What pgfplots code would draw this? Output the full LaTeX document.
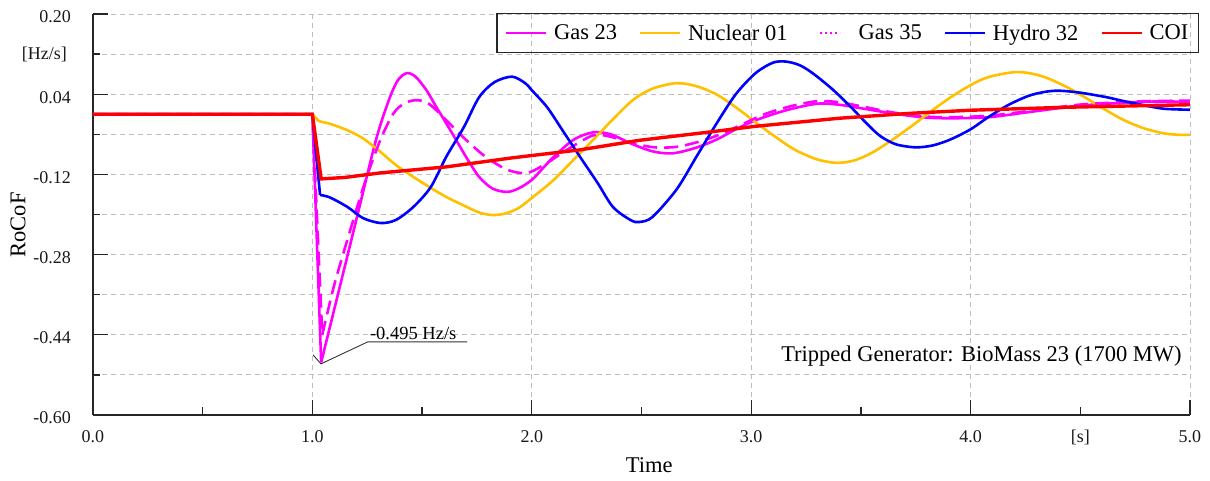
\documentclass[border=0pt]{standalone}
\usepackage{fontspec}
\setmainfont{Liberation Serif}
\usepackage{pgfplots}
\pgfplotsset{compat=1.18}
\definecolor{cMag}{RGB}{255,0,255}
\definecolor{cYel}{RGB}{255,192,0}
\definecolor{cBlu}{RGB}{0,0,255}
\definecolor{cRed}{RGB}{255,0,0}
\definecolor{cGrid}{RGB}{190,190,190}
\begin{document}
\begin{tikzpicture}
\begin{axis}[
  at={(0,0)}, anchor=south west,
  width=1097pt, height=401pt, scale only axis,
  xmin=0, xmax=5, ymin=-0.60, ymax=0.20,
  clip=false,
  axis x line=bottom, axis y line=left,
  axis line style={-, line width=1.3pt, black!85},
  xtick={0,1,2,3,4,5}, xticklabels={0.0,1.0,2.0,3.0,4.0,5.0},
  minor xtick={0.5,1.5,2.5,3.5,4.5},
  ytick={0.20,0.04,-0.12,-0.28,-0.44,-0.60},
  yticklabels={0.20,0.04,-0.12,-0.28,-0.44,-0.60},
  minor ytick={0.12,-0.04,-0.20,-0.36,-0.52},
  tick align=inside, major tick length=15pt, minor tick length=7.5pt,
  every tick/.style={line width=1.3pt, black!85},
  xmajorgrids, ymajorgrids, yminorgrids,
  major grid style={line width=0.9pt, cGrid, dash pattern=on 5pt off 4pt},
  minor grid style={line width=0.9pt, cGrid, dash pattern=on 5pt off 4pt},
  /pgf/number format/assume math mode=true,
  ticklabel style={font=\fontsize{18}{20}\selectfont, text=black!90},
  xticklabel style={anchor=center, yshift=-22pt},
  yticklabel style={anchor=east, inner sep=0pt, xshift=-22pt, yshift=-3pt},
  xlabel={Time},
  xlabel style={at={(axis description cs:0.507,0)}, anchor=center, yshift=-50.5pt, font=\fontsize{22.5}{24}\selectfont},
  ylabel={RoCoF},
  ylabel style={at={(axis description cs:-0.0684,0.474)}, anchor=center, font=\fontsize{22.5}{24}\selectfont},
  legend columns=5,
  legend style={at={(1.0082,1.0025)}, anchor=north east, draw=black!85, line width=1.2pt, fill=none,
    font=\fontsize{22.5}{24}\selectfont, inner xsep=8pt, inner ysep=9pt,
    /tikz/every odd column/.append style={column sep=4.5pt},
    /tikz/every even column/.append style={column sep=20pt}},
  legend image code/.code={\draw[#1] (0pt,0pt) -- (40pt,0pt);},
]
\addlegendimage{cMag, line width=2.6pt}
\addlegendimage{cYel, line width=2.6pt}
\addlegendimage{cMag, line width=2.6pt, dash pattern=on 2.5pt off 2.5pt, shorten <=9pt, shorten >=11pt}
\addlegendimage{cBlu, line width=2.6pt}
\addlegendimage{cRed, line width=2.6pt}
\legend{Gas 23, Nuclear 01, Gas 35, Hydro 32, COI}

% Gas 23
\addplot[forget plot, cMag, line width=2.6pt] coordinates {(0,0)(1.0,0)(1.04,-0.495)};
\addplot[forget plot, cMag, line width=2.6pt, smooth] coordinates {
(1.04,-0.495)(1.20,-0.211)(1.29,-0.051)(1.35,0.030)(1.39,0.068)(1.43,0.082)(1.47,0.075)
(1.52,0.048)(1.56,0.018)(1.61,-0.018)(1.66,-0.055)(1.71,-0.092)(1.76,-0.125)(1.82,-0.148)
(1.886,-0.155)(1.94,-0.148)(2.0,-0.131)(2.05,-0.108)(2.10,-0.085)(2.19,-0.051)(2.28,-0.036)
(2.36,-0.040)(2.45,-0.058)(2.55,-0.074)(2.64,-0.078)(2.74,-0.068)(2.84,-0.051)(2.93,-0.030)
(3.02,-0.012)(3.16,0.008)(3.30,0.021)(3.40,0.019)(3.50,0.012)(3.64,0.002)(3.78,-0.006)
(3.90,-0.008)(4.08,-0.006)(4.26,0.004)(4.40,0.012)(4.52,0.018)(4.79,0.025)(5.0,0.025)};

% Nuclear 01
\addplot[forget plot, cYel, line width=2.6pt] coordinates {(0,0)(1.0,0)(1.03,-0.014)};
\addplot[forget plot, cYel, line width=2.6pt, smooth] coordinates {
(1.03,-0.014)(1.08,-0.019)(1.16,-0.032)(1.23,-0.048)(1.31,-0.075)(1.38,-0.101)(1.46,-0.125)
(1.54,-0.147)(1.61,-0.165)(1.69,-0.182)(1.76,-0.196)(1.82,-0.201)(1.88,-0.198)(1.94,-0.187)
(2.0,-0.167)(2.10,-0.131)(2.19,-0.091)(2.28,-0.051)(2.37,-0.010)(2.46,0.028)(2.55,0.051)
(2.66,0.062)(2.75,0.056)(2.84,0.040)(2.93,0.014)(3.02,-0.016)(3.11,-0.045)(3.20,-0.071)
(3.30,-0.090)(3.39,-0.097)(3.47,-0.092)(3.55,-0.077)(3.64,-0.052)(3.73,-0.024)(3.82,0.006)
(3.91,0.034)(4.00,0.058)(4.08,0.074)(4.20,0.084)(4.28,0.081)(4.35,0.072)(4.44,0.054)
(4.52,0.034)(4.61,0.010)(4.70,-0.012)(4.79,-0.028)(4.88,-0.038)(4.95,-0.041)(5.0,-0.041)};

% Gas 35
\addplot[forget plot, cMag, line width=2.6pt, dash pattern=on 14pt off 7pt] coordinates {(0,0)(1.0,0)(1.045,-0.44)};
\addplot[forget plot, cMag, line width=2.6pt, dash pattern=on 14pt off 7pt, smooth] coordinates {
(1.045,-0.44)(1.10,-0.34)(1.17,-0.235)(1.24,-0.135)(1.31,-0.051)(1.37,0.002)(1.42,0.022)
(1.47,0.028)(1.52,0.024)(1.57,0.006)(1.61,-0.012)(1.70,-0.051)(1.79,-0.085)(1.89,-0.111)
(1.98,-0.117)(2.07,-0.097)(2.16,-0.071)(2.28,-0.042)(2.36,-0.045)(2.46,-0.058)(2.56,-0.066)
(2.66,-0.065)(2.76,-0.055)(2.86,-0.040)(2.96,-0.020)(3.06,0.000)(3.18,0.016)(3.30,0.026)
(3.40,0.024)(3.50,0.016)(3.64,0.004)(3.78,-0.004)(3.90,-0.006)(4.08,-0.003)(4.26,0.006)
(4.40,0.014)(4.52,0.020)(4.79,0.026)(5.0,0.027)};

% Hydro 32
\addplot[forget plot, cBlu, line width=2.6pt] coordinates {(0,0)(1.0,0)(1.035,-0.161)};
\addplot[forget plot, cBlu, line width=2.6pt, smooth] coordinates {
(1.035,-0.161)(1.08,-0.166)(1.16,-0.185)(1.23,-0.207)(1.31,-0.217)(1.38,-0.211)(1.46,-0.185)
(1.54,-0.145)(1.61,-0.085)(1.69,-0.026)(1.76,0.034)(1.83,0.064)(1.91,0.075)(1.97,0.062)
(2.0,0.048)(2.07,0.014)(2.14,-0.032)(2.22,-0.085)(2.30,-0.137)(2.37,-0.185)(2.45,-0.211)
(2.49,-0.215)(2.55,-0.205)(2.66,-0.150)(2.75,-0.085)(2.84,-0.020)(2.93,0.040)(3.02,0.082)
(3.10,0.103)(3.16,0.105)(3.22,0.098)(3.28,0.082)(3.37,0.050)(3.46,0.012)(3.53,-0.020)
(3.59,-0.044)(3.66,-0.060)(3.75,-0.066)(3.83,-0.062)(3.91,-0.050)(4.0,-0.030)(4.08,-0.006)
(4.17,0.018)(4.26,0.036)(4.33,0.044)(4.40,0.047)(4.50,0.043)(4.62,0.034)(4.70,0.026)
(4.79,0.018)(4.88,0.011)(5.0,0.009)};

% COI
\addplot[forget plot, cRed, line width=3.4pt] coordinates {
(0,0)(1.0,0)(1.04,-0.129)(1.15,-0.126)(1.31,-0.117)(1.61,-0.105)(1.91,-0.087)(2.22,-0.071)
(2.49,-0.052)(2.80,-0.036)(3.02,-0.024)(3.40,-0.008)(3.73,0.002)(4.0,0.008)(4.44,0.014)(5.0,0.019)};

% annotations
\draw[black!80, line width=0.9pt] (axis cs:1.003,-0.480) -- (axis cs:1.039,-0.498) -- (axis cs:1.253,-0.454) -- (axis cs:1.705,-0.454);
\node[anchor=base west, inner sep=0pt, font=\fontsize{18.5}{20}\selectfont] at (axis cs:1.262,-0.4484) {-0.495 Hz/s};
\node[anchor=base east, inner sep=0pt, font=\fontsize{22.5}{24}\selectfont] at (axis cs:4.963,-0.494) {Tripped Generator: BioMass 23 (1700 MW)};
\node[anchor=east, inner sep=0pt, font=\fontsize{18}{20}\selectfont, text=black!90, xshift=-26pt] at (axis cs:0,0.12) {[Hz/s]};
\node[anchor=center, font=\fontsize{18}{20}\selectfont, text=black!90, yshift=-22pt] at (axis cs:4.5,-0.60) {[s]};
\end{axis}
\path (-93pt,-66pt) rectangle (1117pt,415pt);
\end{tikzpicture}
\end{document}
